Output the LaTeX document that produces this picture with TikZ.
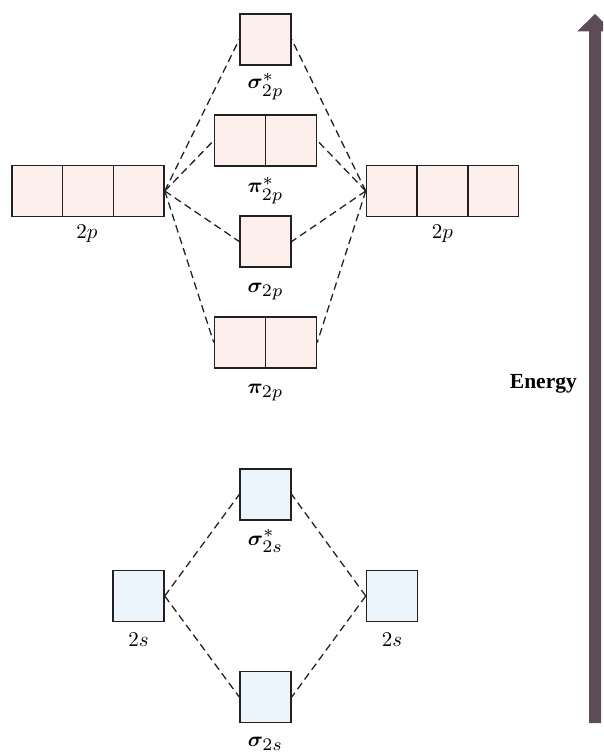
\documentclass[tikz,border=0pt]{standalone}
\usepackage{amsmath,bm}
\usepackage{fontspec}
\newfontfamily\axisfont{Liberation Serif}
\usetikzlibrary{calc}
\definecolor{pinkfill}{RGB}{253,240,236}
\definecolor{bluefill}{RGB}{237,245,252}
\definecolor{boxline}{RGB}{35,32,34}
\definecolor{linkcol}{RGB}{35,35,35}
\definecolor{energycol}{RGB}{92,76,88}
\newcommand{\orblabel}[1]{\scalebox{2.1}{$#1$}}
\newcommand{\orbsub}[1]{\scalebox{1.2}{$\scriptstyle #1$}}
\begin{document}
\begin{tikzpicture}[x=1pt,y=-1pt,
  orb/.style={draw=boxline, line width=1.5pt, inner sep=0pt,
              minimum height=51pt, minimum width=51pt},
  porb/.style={orb, fill=pinkfill},
  sorb/.style={orb, fill=bluefill},
  link/.style={draw=linkcol, line width=1.3pt, dash pattern=on 7.5pt off 4.5pt},
  lbl/.style={anchor=base, inner sep=0pt},
  cell/.style={draw=boxline, line width=1.5pt}]
\useasboundingbox (0,0) rectangle (603,754);
\clip (0,0) rectangle (603,754);

% 2p atomic orbitals and the molecular orbitals built from them
\node[porb, minimum width=152pt] (L2p) at (88,191) {};
\node[porb, minimum width=152pt] (R2p) at (442.5,191) {};
\node[porb] (s2pstar) at (265.5,39.5) {};
\node[porb, minimum width=102pt] (p2pstar) at (265.5,140.5) {};
\node[porb] (s2p) at (265.5,241.5) {};
\node[porb, minimum width=102pt] (p2p) at (265.5,342.5) {};

% 2s atomic orbitals and their molecular orbitals
\node[sorb] (s2sstar) at (265.5,494.5) {};
\node[sorb] (L2s) at (138.5,596) {};
\node[sorb] (R2s) at (392,596) {};
\node[sorb] (s2s) at (265.5,697) {};

% cell dividers
\foreach \n in {L2p,R2p}{
  \draw[cell] ($(\n.north west)!1/3!(\n.north east)$) -- ($(\n.south west)!1/3!(\n.south east)$);
  \draw[cell] ($(\n.north west)!2/3!(\n.north east)$) -- ($(\n.south west)!2/3!(\n.south east)$);
}
\foreach \n in {p2pstar,p2p}{
  \draw[cell] (\n.north) -- (\n.south);
}

% correlation lines
\foreach \m in {s2pstar,p2pstar,s2p,p2p}{
  \draw[link] (L2p.east) -- (\m.west);
  \draw[link] (R2p.west) -- (\m.east);
}
\foreach \m in {s2sstar,s2s}{
  \draw[link] (L2s.east) -- (\m.west);
  \draw[link] (R2s.west) -- (\m.east);
}

% labels
\node[lbl] (ls2pstar) at (265.5,89) {\orblabel{\bm{\sigma}^{\orbsub{\ast}}_{\orbsub{2p}}}};
\node[lbl] (lp2pstar) at (265.5,193) {\orblabel{\bm{\pi}^{\orbsub{\ast}}_{\orbsub{2p}}}};
\node[lbl] (lL2p) at (87,238) {\orblabel{2p}};
\node[lbl] (lR2p) at (442.5,238) {\orblabel{2p}};
\node[lbl] (ls2p) at (265.5,292) {\orblabel{\bm{\sigma}_{\orbsub{2p}}}};
\node[lbl] (lp2p) at (265.5,393) {\orblabel{\bm{\pi}_{\orbsub{2p}}}};
\node[lbl] (ls2sstar) at (265.5,545) {\orblabel{\bm{\sigma}^{\orbsub{\ast}}_{\orbsub{2s}}}};
\node[lbl] (lL2s) at (138.5,646) {\orblabel{2s}};
\node[lbl] (lR2s) at (392,646) {\orblabel{2s}};
\node[lbl] (ls2s) at (265.5,746) {\orblabel{\bm{\sigma}_{\orbsub{2s}}}};

% energy axis
\fill[energycol] (589,723) -- (589,31.5) -- (577,31.5) -- (595,14) -- (613,31.5)
  -- (601,31.5) -- (601,723) -- cycle;
\node[anchor=base east, inner sep=0pt, font=\axisfont\fontsize{21.5}{24}\selectfont\bfseries]
  (energy) at (577,388) {Energy};
\end{tikzpicture}
\end{document}
